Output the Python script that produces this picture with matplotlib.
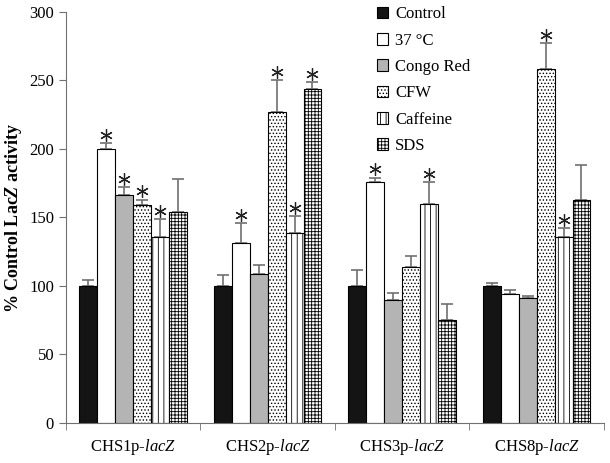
import numpy as np
import matplotlib.pyplot as plt

plt.rcParams['font.family'] = 'Liberation Serif'
plt.rcParams['mathtext.fontset'] = 'custom'
plt.rcParams['mathtext.rm'] = 'Liberation Serif'
plt.rcParams['mathtext.it'] = 'Liberation Serif:italic'
plt.rcParams['mathtext.bf'] = 'Liberation Serif:bold'
plt.rcParams['mathtext.bfit'] = 'Liberation Serif:italic:bold'
plt.rcParams['hatch.linewidth'] = 0.6

groups = [r'CHS1p-$\mathit{lacZ}$', r'CHS2p-$\mathit{lacZ}$',
          r'CHS3p-$\mathit{lacZ}$', r'CHS8p-$\mathit{lacZ}$']
treatments = ['Control', '37 °C', 'Congo Red', 'CFW', 'Caffeine', 'SDS']

# mean % activity, one list per treatment (across the 4 promoters)
control = [100, 100, 100, 100]
t37 = [200, 131, 176, 94]
congo = [166, 109, 90, 91]
cfw = [159, 227, 114, 258]
caffeine = [136, 139, 160, 136]
sds = [154, 244, 75, 163]
values = [control, t37, congo, cfw, caffeine, sds]

# upper error (SD)
err_control = [4, 8, 12, 2]
err_t37 = [4, 15, 3, 3]
err_congo = [6, 6, 5, 2]
err_cfw = [4, 23, 8, 19]
err_caffeine = [13, 12, 16, 6]
err_sds = [24, 5, 12, 25]
errors = [err_control, err_t37, err_congo, err_cfw, err_caffeine, err_sds]

# significance stars: (treatment index, group index)
stars = [(1, 0), (2, 0), (3, 0), (4, 0),
         (1, 1), (3, 1), (4, 1), (5, 1),
         (1, 2), (4, 2),
         (3, 3), (4, 3)]

faces = ['#141414', 'white', '#b4b4b4', 'white', 'white', 'white']
hatches = [None, None, None, '.....', '|||', '+++++']

fig = plt.figure(figsize=(6.1, 4.63), dpi=100)
ax = fig.add_axes([0.108, 0.0864, 0.882, 0.888])

x = np.arange(len(groups))
w = 0.8 / 6
for i in range(6):
    pos = x - 0.4 + w * (i + 0.5)
    ax.bar(pos, values[i], w, color=faces[i], edgecolor='black', hatch=hatches[i],
           linewidth=0.8, label=treatments[i], zorder=2)
    ax.errorbar(pos, values[i], yerr=[np.zeros(4), errors[i]], fmt='none',
                ecolor='#707070', elinewidth=1.2, capsize=4, capthick=1.2, zorder=1)

for ti, gi in stars:
    px = x[gi] - 0.4 + w * (ti + 0.5)
    py = values[ti][gi] + errors[ti][gi] + 6
    ax.plot(px, py, marker=(6, 2, 0), ms=9, mew=0.9, color='#222222', zorder=3)

ax.set_xlim(-0.5, 3.5)
ax.set_ylim(0, 300)
ax.set_yticks(range(0, 301, 50))
ax.set_xticks(x)
ax.set_xticklabels(groups, fontsize=12)
ax.set_xticks(np.arange(-0.5, 4, 1), minor=True)
ax.tick_params(axis='x', which='major', length=0, pad=10)
ax.tick_params(axis='x', which='minor', length=5, color='#707070')
ax.tick_params(axis='y', labelsize=12, color='#707070', length=5)
for s in ['top', 'right']:
    ax.spines[s].set_visible(False)
for s in ['left', 'bottom']:
    ax.spines[s].set_color('#707070')

ax.set_ylabel(r'% Control Lac$\mathbfit{Z}$ activity', fontsize=13, fontweight='bold')

ax.legend(loc='upper left', bbox_to_anchor=(0.55, 1.05), frameon=False, fontsize=12,
          handlelength=0.7, handleheight=0.7, handletextpad=0.4, labelspacing=0.62)

plt.savefig('out.png')
